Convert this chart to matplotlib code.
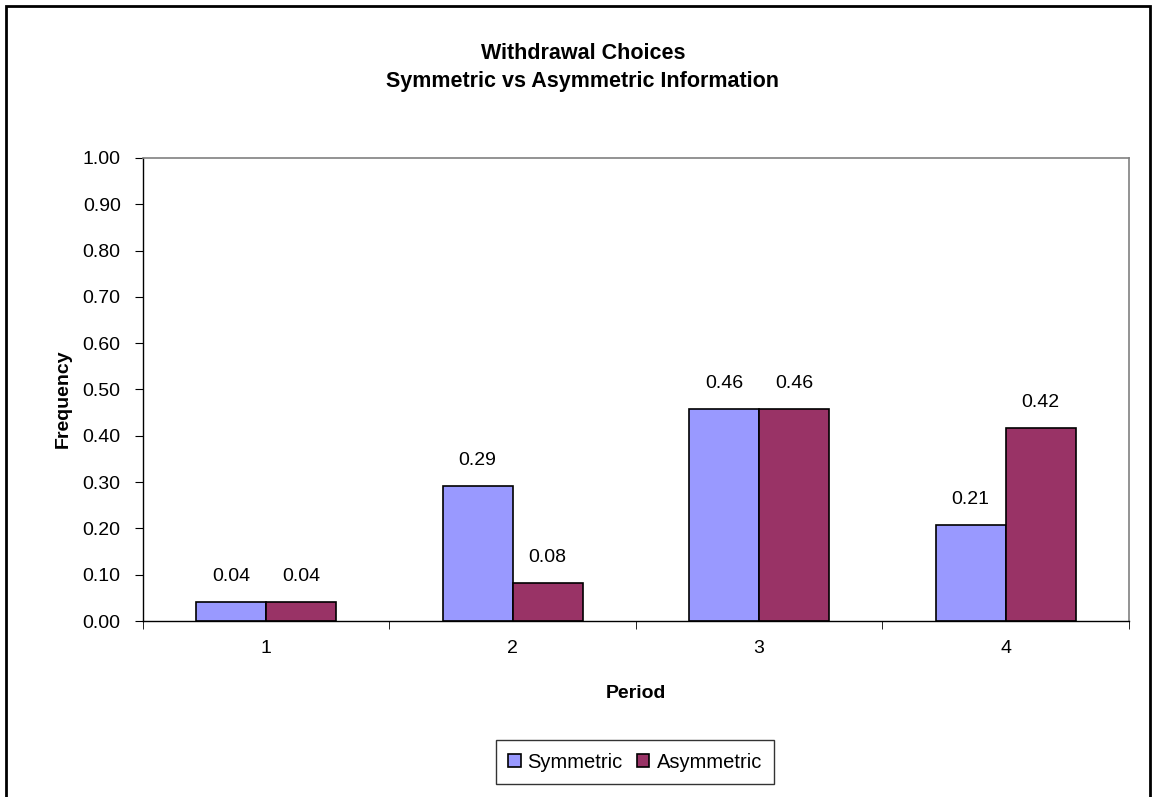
import numpy as np
import matplotlib.pyplot as plt
from matplotlib.patches import Rectangle

plt.rcParams['font.family'] = ['Liberation Sans', 'DejaVu Sans']

periods = ["1", "2", "3", "4"]
symmetric = [0.042, 0.292, 0.458, 0.208]
asymmetric = [0.042, 0.083, 0.458, 0.417]
y_ticks = [0.0, 0.1, 0.2, 0.3, 0.4, 0.5, 0.6, 0.7, 0.8, 0.9, 1.0]

sym_color = "#9999FF"
asym_color = "#993366"

fig = plt.figure(figsize=(11.53, 7.97), dpi=100)
ax = fig.add_axes([0.124, 0.2208, 0.855, 0.581])

x = np.arange(len(periods))
w = 0.284
b1 = ax.bar(x - w / 2, symmetric, w, color=sym_color, edgecolor="black",
            linewidth=1.2, label="Symmetric")
b2 = ax.bar(x + w / 2, asymmetric, w, color=asym_color, edgecolor="black",
            linewidth=1.2, label="Asymmetric")

# value labels above each bar
for bars, vals in ((b1, symmetric), (b2, asymmetric)):
    for rect, v in zip(bars, vals):
        ax.annotate("%.2f" % v, (rect.get_x() + rect.get_width() / 2, v),
                    xytext=(0, 12), textcoords="offset points",
                    ha="center", va="bottom", fontsize=14)

ax.set_xlim(-0.5, len(periods) - 0.5)
ax.set_ylim(0, 1.0)
ax.set_yticks(y_ticks)
ax.set_yticklabels(["%.2f" % t for t in y_ticks])
ax.set_xticks(x)
ax.set_xticklabels(periods)
ax.set_xticks(np.arange(-0.5, len(periods)), minor=True)
ax.tick_params(axis="x", which="major", length=0, pad=14, labelsize=14)
ax.tick_params(axis="x", which="minor", length=6, direction="out")
ax.tick_params(axis="y", length=6, direction="out", labelsize=14, pad=10)

for side in ("top", "right"):
    ax.spines[side].set_color("#808080")
    ax.spines[side].set_linewidth(1.2)
for side in ("left", "bottom"):
    ax.spines[side].set_color("black")
    ax.spines[side].set_linewidth(1.0)

fig.text(0.5056, 1 - 59 / 797, "Withdrawal Choices", ha="center",
         va="baseline", fontsize=15.5, fontweight="bold")
fig.text(0.5056, 1 - 87 / 797, "Symmetric vs Asymmetric Information",
         ha="center", va="baseline", fontsize=15.5, fontweight="bold")
fig.text(0.055, 0.5, "Frequency", rotation=90, ha="center", va="center",
         fontsize=14, fontweight="bold")
fig.text(0.5516, 1 - 694 / 797, "Period", ha="center", va="center",
         fontsize=14, fontweight="bold")

leg = fig.legend(loc="center", bbox_to_anchor=(635 / 1153, 1 - 762 / 797),
                 ncol=2, fontsize=14.5, frameon=True, fancybox=False,
                 shadow=False, handlelength=0.62, handleheight=0.62,
                 handletextpad=0.35, columnspacing=0.7, borderpad=0.6,
                 borderaxespad=0)
leg.get_frame().set_edgecolor("black")
leg.get_frame().set_linewidth(1.0)

# outer chart border
fig.patches.append(Rectangle((6 / 1153, -0.02), 1144 / 1153, 1 - 6 / 797 + 0.02,
                             transform=fig.transFigure, fill=False,
                             edgecolor="black", linewidth=2))

fig.savefig("out.png", dpi=100)
